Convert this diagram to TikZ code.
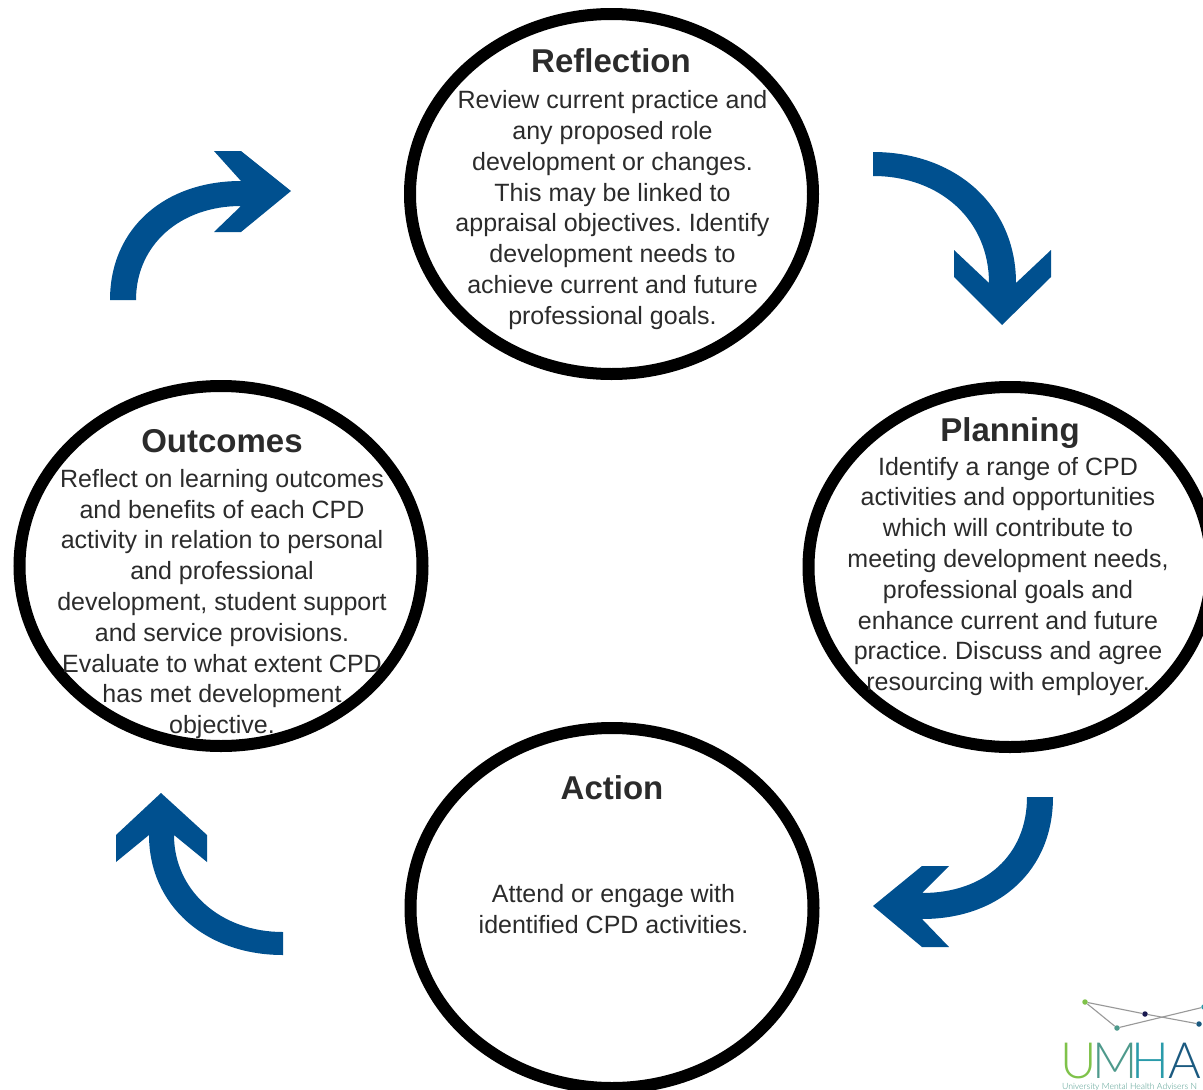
\documentclass[tikz,border=0pt]{standalone}
\usepackage{fontspec}
\setmainfont{Liberation Sans}
\newfontfamily\logofont{Lato Light}
\usetikzlibrary{shapes.geometric}
\definecolor{arrowblue}{HTML}{00508F}
\definecolor{ink}{HTML}{2B2B2B}
\definecolor{logogreen}{HTML}{7FC24A}
\definecolor{logosea}{HTML}{4E9A8C}
\definecolor{logoteal}{HTML}{2A9BAA}
\definecolor{logodeep}{HTML}{1B5A80}
\definecolor{logonavy}{HTML}{1A1A50}
\tikzset{
  ring/.style={ellipse,draw=black,line width=12pt,fill=white,minimum width=403pt,minimum height=360pt,inner sep=0pt},
  title/.style={text=ink,font=\fontsize{33}{36}\selectfont\bfseries,inner sep=0pt,anchor=base},
  body/.style={text=ink,font=\fontsize{25}{30.8}\selectfont\frenchspacing,align=center,inner sep=0pt},
  cyclearrow/.style={fill=arrowblue,draw=none},
  logoline/.style={draw=black!40,line width=1.1pt},
  logodot/.style={circle,inner sep=0pt,minimum size=5.5pt},
  logoletter/.style={font=\logofont\fontsize{50}{50}\selectfont,inner sep=0pt,anchor=base west}
}
\begin{document}
\begin{tikzpicture}[x=1pt,y=-1pt]
\useasboundingbox (0,0) rectangle (1203,1090);
\fill[white] (0,0) rectangle (1203,1090);

\node[ring] (reflectionring) at (611.5,194) {};
\node[ring] (planningring) at (1010,567) {};
\node[ring] (outcomesring) at (221,566) {};
\node[ring] (actionring) at (612,908) {};

% arrows
\fill[cyclearrow] (873,152) .. controls (955,152) and (1016,205) .. (1016,283)
  -- (1051,250) -- (1051,277) -- (1002,325) -- (954,277) -- (954,250) -- (989,283)
  .. controls (989,220) and (940,176) .. (873,176) -- cycle;
\fill[cyclearrow] (1053,797) .. controls (1053,870) and (1000,919) .. (922,919)
  -- (949,947) -- (922,947) -- (873,906) -- (922,866) -- (949,866) -- (922,893)
  .. controls (985,893) and (1027,855) .. (1027,797) -- cycle;
\fill[cyclearrow] (283,955) .. controls (205,955) and (149,905) .. (149,835)
  -- (116,862) -- (116,835) -- (161,793) -- (207,835) -- (207,862) -- (174,835)
  .. controls (174,890) and (220,932) .. (283,932) -- cycle;
\fill[cyclearrow] (110,300) .. controls (110,228) and (165,181) .. (241,181)
  -- (214,151) -- (241,151) -- (291,191) -- (241,232) -- (214,232) -- (241,206)
  .. controls (180,206) and (136,245) .. (136,300) -- cycle;

% texts
\node[title] (reflectiontitle) at (611,72) {Reflection};
\node[body] (reflectionbody) at (612.5,210) {Review current practice and\\any proposed role\\development or changes.\\This may be linked to\\appraisal objectives. Identify\\development needs to\\achieve current and future\\professional goals.};
\node[title] (planningtitle) at (1010,441) {Planning};
\node[body] (planningbody) at (1008,576.5) {Identify a range of CPD\\activities and opportunities\\which will contribute to\\meeting development needs,\\professional goals and\\enhance current and future\\practice. Discuss and agree\\resourcing with employer.};
\node[title] (outcomestitle) at (222,452) {Outcomes};
\node[body] (outcomesbody) at (222,604) {Reflect on learning outcomes\\and benefits of each CPD\\activity in relation to personal\\and professional\\development, student support\\and service provisions.\\Evaluate to what extent CPD\\has met development\\objective.};
\node[title] (actiontitle) at (612,799) {Action};
\node[body] (actionbody) at (613.5,909) {Attend or engage with\\identified CPD activities.};

% logo
\node[logodot,fill=logogreen] (d1) at (1085,1002) {};
\node[logodot,fill=logonavy] (d2) at (1145,1014) {};
\node[logodot,fill=logosea] (d3) at (1117,1028) {};
\node[logodot,fill=logodeep] (d4) at (1199,1024) {};
\node[logodot,fill=logoteal] (d5) at (1204,1007) {};
\draw[logoline] (d1) -- (d2) -- (d4);
\draw[logoline] (d1) -- (d3) -- (d5);
\node[logoletter,text=logogreen] (lu) at (1060,1078) {U};
\node[logoletter,text=logosea] (lm) at (1092,1078) {M};
\node[logoletter,text=logoteal] (lh) at (1131,1078) {H};
\node[logoletter,text=logodeep] (la) at (1168,1078) {A};
\node[font=\logofont\fontsize{8.6}{9}\selectfont,text=logosea,anchor=base west,inner sep=0pt] (lsub) at (1062,1089) {University Mental Health Advisers N};
\end{tikzpicture}
\end{document}
